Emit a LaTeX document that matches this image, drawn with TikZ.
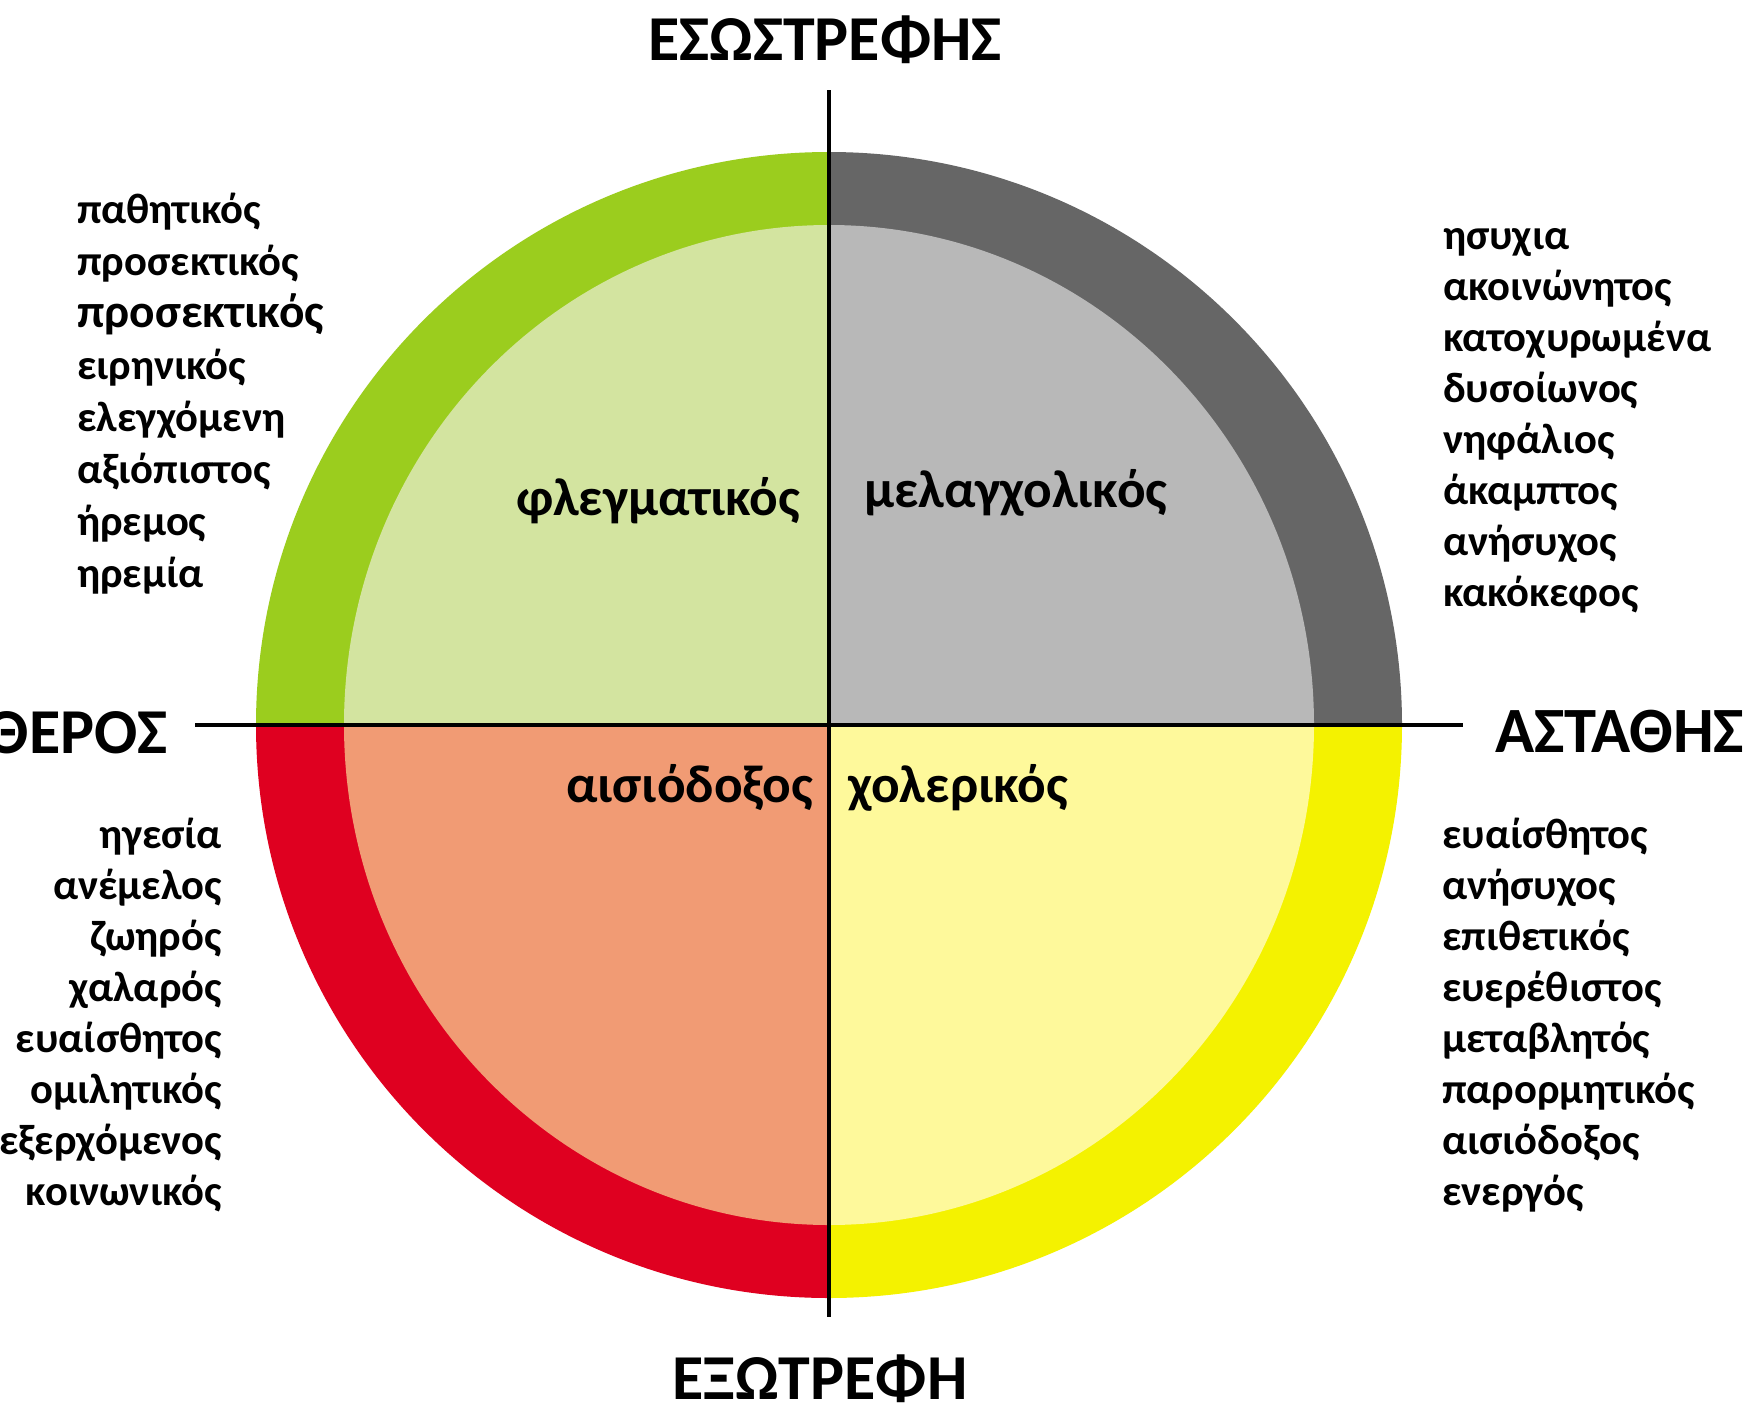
\documentclass[tikz,border=0pt]{standalone}
\usepackage{fontspec}
\setmainfont{Carlito}
\definecolor{gring}{HTML}{9BCD1E}
\definecolor{gin}{HTML}{D3E4A0}
\definecolor{kring}{HTML}{666666}
\definecolor{kin}{HTML}{B8B8B8}
\definecolor{rring}{HTML}{DF0020}
\definecolor{rin}{HTML}{F19B74}
\definecolor{yring}{HTML}{F4F200}
\definecolor{yin}{HTML}{FEF99B}
\begin{document}
\begin{tikzpicture}[x=1pt,y=-1pt,
  word/.style={inner sep=0pt,font=\fontsize{42.6}{50}\selectfont\bfseries},
  bigword/.style={inner sep=0pt,font=\fontsize{47.4}{56}\selectfont\bfseries},
  quad/.style={inner sep=0pt,font=\fontsize{53.3}{64}\selectfont\bfseries},
  axislabel/.style={inner sep=0pt,font=\fontsize{64}{76}\selectfont\bfseries},
  axisline/.style={line width=4.5pt,black}]
\useasboundingbox (0,0) rectangle (1748,1405);
\fill[white] (0,0) rectangle (1748,1405);
\coordinate (c) at (829,725);
% quadrants
\begin{scope}
\clip (c) rectangle (0,0);
\fill[gring] (c) circle[radius=573];
\fill[gin] (c) ellipse[x radius=485,y radius=500];
\end{scope}
\begin{scope}
\clip (c) rectangle (1748,0);
\fill[kring] (c) circle[radius=573];
\fill[kin] (c) ellipse[x radius=485,y radius=500];
\end{scope}
\begin{scope}
\clip (c) rectangle (0,1405);
\fill[rring] (c) circle[radius=573];
\fill[rin] (c) ellipse[x radius=485,y radius=500];
\end{scope}
\begin{scope}
\clip (c) rectangle (1748,1405);
\fill[yring] (c) circle[radius=573];
\fill[yin] (c) ellipse[x radius=485,y radius=500];
\end{scope}
% axes
\coordinate (vtop) at (829,90);
\coordinate (vbot) at (829,1317);
\coordinate (hleft) at (195,725);
\coordinate (hright) at (1463,725);
\draw[axisline] (vtop) -- (vbot);
\draw[axisline] (hleft) -- (hright);
% axis labels
\node[axislabel,anchor=base] (tN) at (825,60) {ΕΣΩΣΤΡΕΦΗΣ};
\node[axislabel,anchor=base] (tS) at (820,1399) {ΕΞΩΤΡΕΦΗ};
\node[axislabel,anchor=base west,font=\fontsize{64.6}{76}\selectfont\bfseries] (tE) at (1495,752) {ΑΣΤΑΘΗΣ};
\node[axislabel,anchor=base east] (tW) at (168,753) {ΘΕΡΟΣ};
% quadrant labels
\node[quad,anchor=base west] (qTL) at (516,515) {φλεγματικός};
\node[quad,anchor=base west] (qTR) at (864,507) {μελαγχολικός};
\node[quad,anchor=base west] (qBL) at (566,802) {αισιόδοξος};
\node[quad,anchor=base west] (qBR) at (848,802) {χολερικός};
% top-left list
\node[word,anchor=base west] (l1) at (77,223) {παθητικός};
\node[word,anchor=base west] (l2) at (77,275.1) {προσεκτικός};
\node[bigword,anchor=base west] (l3) at (77,327.2) {προσεκτικός};
\node[word,anchor=base west] (l4) at (77,379.3) {ειρηνικός};
\node[word,anchor=base west] (l5) at (77,431.4) {ελεγχόμενη};
\node[word,anchor=base west] (l6) at (77,483.5) {αξιόπιστος};
\node[word,anchor=base west] (l7) at (77,535.6) {ήρεμος};
\node[word,anchor=base west] (l8) at (77,587.7) {ηρεμία};
% top-right list
\foreach \w [count=\i from 0] in {ησυχια,ακοινώνητος,κατοχυρωμένα,δυσοίωνος,νηφάλιος,άκαμπτος,ανήσυχος,κακόκεφος}
  \node[word,anchor=base west] (r\i) at (1443,249+51.1*\i) {\w};
% bottom-left list
\foreach \w [count=\i from 0] in {ηγεσία,ανέμελος,ζωηρός,χαλαρός,ευαίσθητος,ομιλητικός,εξερχόμενος,κοινωνικός}
  \node[word,anchor=base east] (bl\i) at (222,848+51.1*\i) {\w};
% bottom-right list
\foreach \w [count=\i from 0] in {ευαίσθητος,ανήσυχος,επιθετικός,ευερέθιστος,μεταβλητός,παρορμητικός,αισιόδοξος,ενεργός}
  \node[word,anchor=base west] (br\i) at (1442,848+51.1*\i) {\w};
\end{tikzpicture}
\end{document}
